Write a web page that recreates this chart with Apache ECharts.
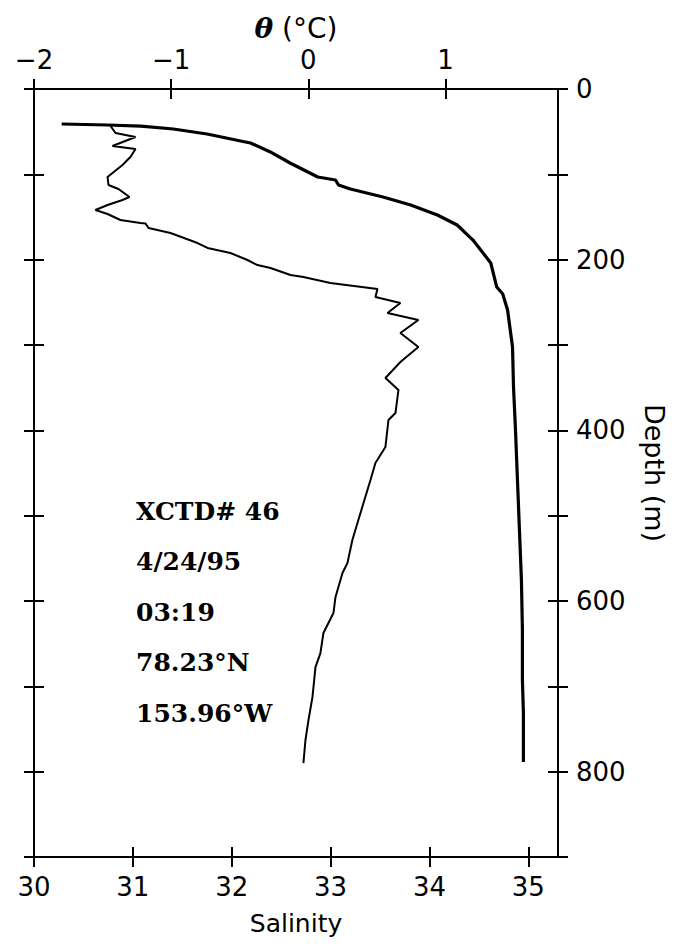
<!DOCTYPE html>
<html><head><meta charset="utf-8">
<script src="https://cdn.jsdelivr.net/npm/echarts@6/dist/echarts.min.js"></script>
<style>html,body{margin:0;padding:0;background:#fff}#c{width:680px;height:944px}</style>
</head><body><div id="c"></div>
<script>
// Potential temperature profile (thin line): theta (°C) vs depth (m)
const thetaValues = [-1.442,-1.406,-1.260,-1.428,-1.260,-1.297,-1.355,-1.464,-1.457,-1.384,-1.304,-1.355,-1.464,-1.552,-1.464,-1.370,-1.224,-1.187,-1.165,-1.005,-0.808,-0.735,-0.568,-0.444,-0.371,-0.276,-0.130,-0.036,0.161,0.504,0.489,0.671,0.577,0.802,0.671,0.802,0.671,0.562,0.657,0.635,0.584,0.562,0.489,0.453,0.402,0.358,0.321,0.285,0.249,0.198,0.183,0.110,0.088,0.052,0.030,0.001,-0.021,-0.036];
const thetaDepths = [43.4,51.6,56.3,66.8,70.3,79.7,89.1,103.1,112.5,117.2,126.6,130.1,135.9,141.8,146.5,153.5,157.0,157.6,162.9,168.8,180.5,186.3,192.2,200.4,206.3,209.8,218.0,220.3,227.4,234.4,243.8,250.8,262.5,270.7,286.0,302.4,319.9,338.7,352.7,379.7,387.9,419.5,438.3,458.2,485.2,508.6,528.5,555.5,567.2,595.3,614.1,637.5,661.0,677.4,712.6,739.5,762.9,789.9];
// Salinity profile (thick line)
const salinityValues = [30.28,30.74,31.08,31.41,31.75,32.09,32.19,32.39,32.59,32.87,33.05,33.08,33.20,33.53,33.81,34.08,34.28,34.44,34.62,34.68,34.74,34.79,34.84,34.85,34.87,34.89,34.91,34.93,34.94,34.94,34.95,34.95];
const salinityDepths = [41.0,42.2,43.4,46.9,52.7,60.9,63.3,73.8,86.7,103.1,106.6,112.5,117.2,126.6,135.9,147.7,159.4,177.0,203.9,232.0,240.0,259.0,302.4,349.2,399.6,458.2,516.8,575.4,634.0,692.6,731.3,788.7];

const salinityTicks = [30,31,32,33,34,35];
const thetaTicks = [-2,-1,0,1];
const depthLabels = [0,200,400,600,800];
const infoLines = ['XCTD# 46','4/24/95','03:19','78.23°N','153.96°W'];

const SANS = 'DejaVu Sans';
const AX = {color:'#000', width:2};
const lab = {color:'#000', fontFamily:SANS, fontSize:26};

function zip(a, b){ return a.map((v,i)=>[v, b[i]]); }

const chart = echarts.init(document.getElementById('c'), null, {renderer:'svg'});

const salScale = {type:'value', min:30, max:35.30, scale:true};
const thScale = {type:'value', min:-2, max:1.82, scale:true};
const depScale = {type:'value', min:0, max:900, interval:100, inverse:true};
const hidden = {axisLine:{show:false, onZero:false}, axisLabel:{show:false}, splitLine:{show:false}};

chart.setOption({
  animation:false,
  backgroundColor:'#fff',
  grid:{left:34, right:122, top:89, bottom:87, containLabel:false},
  title:{
    text: infoLines.join('\n'),
    left:131, top:481,
    textStyle:{fontFamily:'DejaVu Serif', fontWeight:'bold', fontSize:25, lineHeight:50.5, color:'#000'}
  },
  xAxis:[
    Object.assign({}, salScale, {position:'bottom',
      axisLine:{show:true, onZero:false, lineStyle:AX},
      axisTick:{show:true, inside:false, length:10, lineStyle:AX, customValues:salinityTicks},
      axisLabel:Object.assign({}, lab, {margin:17, customValues:salinityTicks}),
      splitLine:{show:false},
      name:'Salinity', nameLocation:'middle', nameGap:54,
      nameTextStyle:{color:'#000', fontFamily:SANS, fontSize:25}}),
    Object.assign({}, thScale, {position:'top',
      axisLine:{show:true, onZero:false, lineStyle:AX},
      axisTick:{show:true, inside:false, length:10, lineStyle:AX, customValues:thetaTicks},
      axisLabel:Object.assign({}, lab, {margin:16, customValues:thetaTicks,
        formatter:v => v < 0 ? '\u2212' + Math.abs(v) : String(v)}),
      splitLine:{show:false},
      name:'{i|θ} (°C)', nameLocation:'middle', nameGap:47,
      nameTextStyle:{color:'#000', fontFamily:SANS, fontSize:28,
        rich:{i:{fontFamily:'DejaVu Serif', fontStyle:'italic', fontWeight:'bold', fontSize:28, color:'#000'}}}}),
    Object.assign({}, salScale, hidden, {position:'bottom',
      axisTick:{show:true, inside:true, length:10, lineStyle:AX, customValues:salinityTicks}}),
    Object.assign({}, thScale, hidden, {position:'top',
      axisTick:{show:true, inside:true, length:10, lineStyle:AX, customValues:thetaTicks}})
  ],
  yAxis:[
    Object.assign({}, depScale, {position:'left',
      axisLine:{show:true, onZero:false, lineStyle:AX},
      axisTick:{show:true, inside:false, length:10, lineStyle:AX},
      axisLabel:{show:false}, splitLine:{show:false}}),
    Object.assign({}, depScale, {position:'right',
      axisLine:{show:true, onZero:false, lineStyle:AX},
      axisTick:{show:true, inside:false, length:10, lineStyle:AX},
      axisLabel:Object.assign({}, lab, {margin:18, customValues:depthLabels}),
      splitLine:{show:false},
      name:'Depth (m)', nameLocation:'middle', nameRotate:-90, nameGap:83,
      nameTextStyle:{color:'#000', fontFamily:SANS, fontSize:27}}),
    Object.assign({}, depScale, hidden, {position:'left',
      axisTick:{show:true, inside:true, length:10, lineStyle:AX}}),
    Object.assign({}, depScale, hidden, {position:'right',
      axisTick:{show:true, inside:true, length:10, lineStyle:AX}})
  ],
  series:[
    {type:'line', name:'Salinity', xAxisIndex:0, yAxisIndex:0, data:zip(salinityValues, salinityDepths),
     showSymbol:false, symbol:'none', lineStyle:{color:'#000', width:3.2}, silent:true},
    {type:'line', name:'Theta', xAxisIndex:1, yAxisIndex:0, data:zip(thetaValues, thetaDepths),
     showSymbol:false, symbol:'none', lineStyle:{color:'#000', width:2}, silent:true}
  ]
});
</script>
</body></html>
